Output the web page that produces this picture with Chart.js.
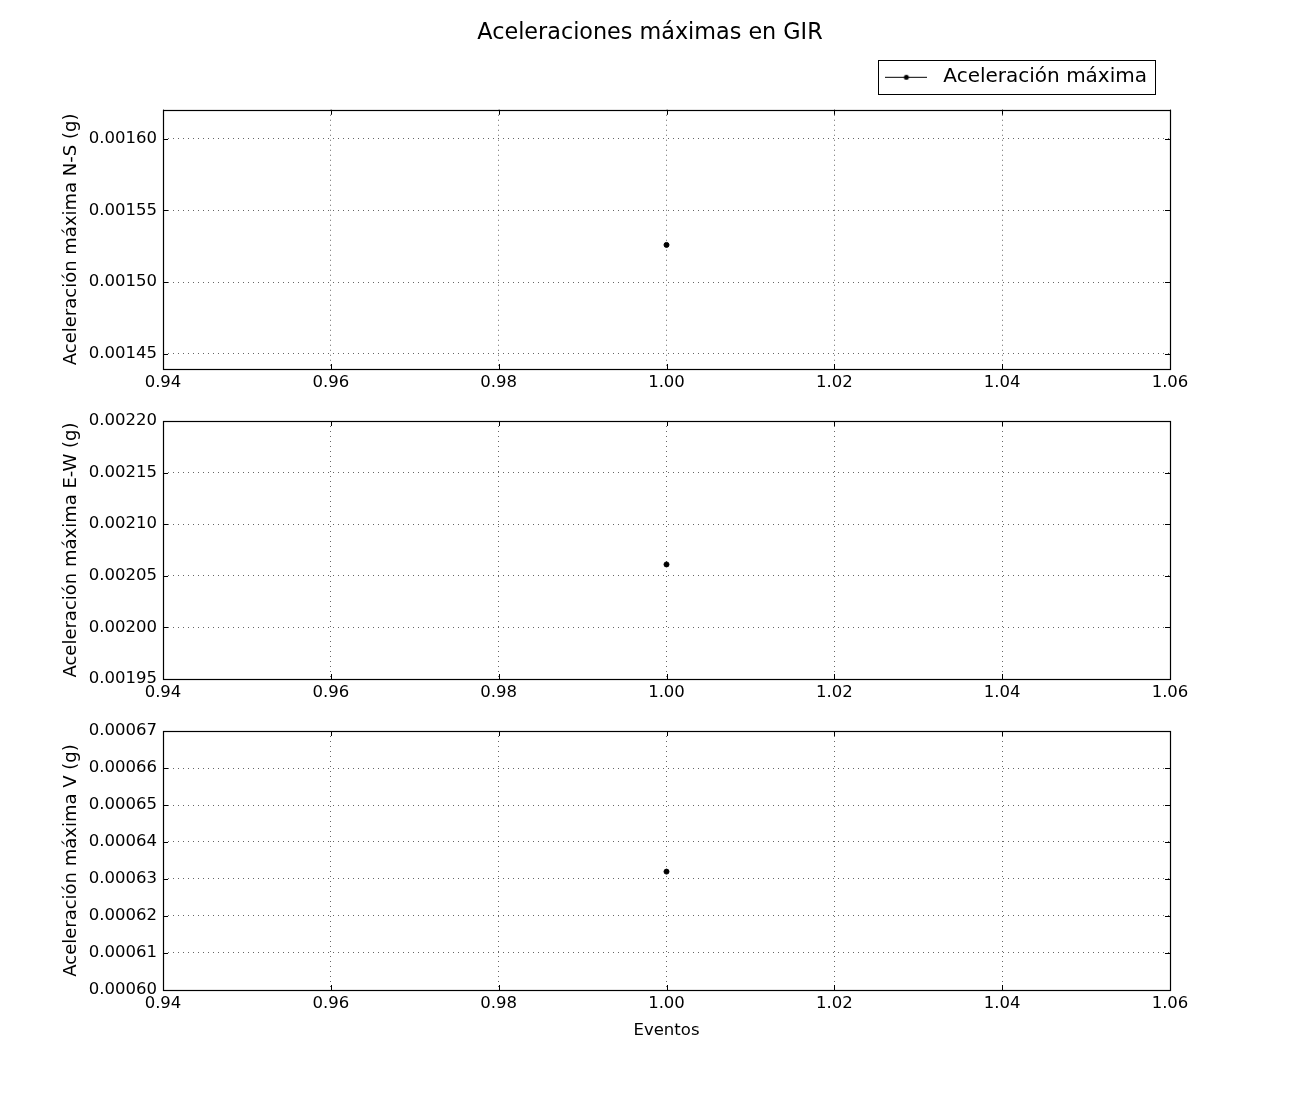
<!DOCTYPE html>
<html>
<head>
<meta charset="utf-8">
<script src="https://cdn.jsdelivr.net/npm/chart.js@4/dist/chart.umd.min.js"></script>
<style>
  body { margin: 0; background: #fff; }
  #wrap { position: relative; width: 1300px; height: 1100px; }
  canvas { position: absolute; left: 0; }
</style>
</head>
<body>
<div id="wrap">
  <canvas id="panelNS" width="1300" height="400" style="top:0"></canvas>
  <canvas id="panelEW" width="1300" height="310" style="top:400px"></canvas>
  <canvas id="panelV" width="1300" height="390" style="top:710px"></canvas>
</div>
<script>
// datos
const eventos = [1];
const acelNS = [0.001526];
const acelEW = [0.002061];
const acelV = [0.000632];

const xTicks = [0.94, 0.96, 0.98, 1.00, 1.02, 1.04, 1.06];
const nsTicks = [0.00145, 0.00150, 0.00155, 0.00160];
const ewTicks = [0.00195, 0.00200, 0.00205, 0.00210, 0.00215, 0.00220];
const vTicks = [0.00060, 0.00061, 0.00062, 0.00063, 0.00064, 0.00065, 0.00066, 0.00067];
const nsRange = [0.0014395, 0.0016202];
const ewRange = [0.00195, 0.00220];
const vRange = [0.00060, 0.00067];

const FONT = "'DejaVu Sans', sans-serif";
const tickFont = { family: FONT, size: 16.5 };
const gridColor = 'rgba(0,0,0,0.6)';

// marca de la leyenda: linea con punto
const legendMark = document.createElement('canvas');
legendMark.width = 42;
legendMark.height = 10;
(function () {
  const c = legendMark.getContext('2d');
  c.strokeStyle = '#000';
  c.lineWidth = 1;
  c.beginPath();
  c.moveTo(0, 5.5);
  c.lineTo(42, 5.5);
  c.stroke();
  c.fillStyle = '#000';
  c.beginPath();
  c.arc(21, 5.5, 2.5, 0, Math.PI * 2);
  c.fill();
})();

// marco y ticks hacia dentro (estilo clasico)
const framePlugin = {
  id: 'frame',
  beforeDatasetsDraw(chart) {
    const ctx = chart.ctx;
    const a = chart.chartArea;
    const xs = chart.scales.x, ys = chart.scales.y;
    ctx.save();
    ctx.strokeStyle = '#000';
    ctx.lineWidth = 1;
    ctx.beginPath();
    xs.ticks.forEach(t => {
      const px = Math.round(xs.getPixelForValue(t.value)) + 0.5;
      ctx.moveTo(px, a.bottom);
      ctx.lineTo(px, a.bottom - 5);
      ctx.moveTo(px, a.top);
      ctx.lineTo(px, a.top + 5);
    });
    ys.ticks.forEach(t => {
      const py = Math.round(ys.getPixelForValue(t.value)) + 0.5;
      ctx.moveTo(a.left, py);
      ctx.lineTo(a.left + 5, py);
      ctx.moveTo(a.right, py);
      ctx.lineTo(a.right - 5, py);
    });
    ctx.stroke();
    ctx.lineWidth = 1.2;
    ctx.strokeRect(Math.round(a.left) + 0.5, Math.round(a.top) + 0.5,
      Math.round(a.right - a.left), Math.round(a.bottom - a.top));
    ctx.restore();
  },
  afterDraw(chart) {
    const lg = chart.legend;
    if (!lg || !lg.options.display || !lg.legendHitBoxes.length) return;
    const hb = lg.legendHitBoxes[0];
    const ctx = chart.ctx;
    const cy = hb.top + hb.height / 2;
    ctx.save();
    ctx.strokeStyle = '#000';
    ctx.lineWidth = 1;
    ctx.strokeRect(Math.round(hb.left - 1) + 0.5, Math.round(cy - 17) + 0.5,
      Math.round(hb.width + 9), 34);
    ctx.restore();
  }
};

// ejes vacios que solo reservan espacio
const spacer = size => ({
  type: 'linear',
  display: true,
  ticks: { display: false },
  grid: { display: false, drawTicks: false },
  border: { display: false },
  title: { display: false },
  afterFit: s => { if (s.isHorizontal()) s.height = size; else s.width = size; }
});

function makePanel(id, values, yTitle, yTicks, yRange, extra) {
  const scales = {
    x: {
      type: 'linear',
      min: xTicks[0],
      max: xTicks[xTicks.length - 1],
      afterBuildTicks: s => { s.ticks = xTicks.map(v => ({ value: v })); },
      afterFit: s => { s.height = extra.xHeight; },
      ticks: {
        callback: v => v.toFixed(2),
        color: '#000',
        font: tickFont,
        padding: 4,
        autoSkip: false,
        maxRotation: 0
      },
      grid: { color: gridColor, lineWidth: 1, drawTicks: false },
      border: { display: false, dash: [1, 4] },
      title: {
        display: !!extra.xTitle,
        text: extra.xTitle || '',
        color: '#000',
        font: tickFont,
        padding: { top: 0, bottom: 1 }
      }
    },
    y: {
      type: 'linear',
      min: yRange[0],
      max: yRange[1],
      afterBuildTicks: s => { s.ticks = yTicks.map(v => ({ value: v })); },
      afterFit: s => { s.width = 105; },
      ticks: {
        callback: v => v.toFixed(5),
        color: '#000',
        font: tickFont,
        padding: 6,
        autoSkip: false
      },
      grid: { color: gridColor, lineWidth: 1, drawTicks: false },
      border: { display: false, dash: [1, 4] },
      title: {
        display: true,
        text: yTitle,
        color: '#000',
        font: { family: FONT, size: 18 },
        padding: { top: 3, bottom: 0 }
      }
    },
    yRight: Object.assign(spacer(72), { position: 'right' })
  };
  if (extra.topGap) scales.xTop = Object.assign(spacer(extra.topGap), { position: 'top' });

  return new Chart(document.getElementById(id), {
    type: 'line',
    data: {
      datasets: [{
        label: 'Aceleración máxima',
        data: eventos.map((x, i) => ({ x: x, y: values[i] })),
        borderColor: '#000',
        backgroundColor: '#000',
        borderWidth: 1,
        pointRadius: 2.5,
        pointHoverRadius: 2.5,
        showLine: true
      }]
    },
    options: {
      responsive: false,
      animation: false,
      devicePixelRatio: 1,
      layout: { padding: { left: 58, right: 58, top: extra.padTop, bottom: extra.padBottom } },
      plugins: {
        tooltip: { enabled: false },
        title: {
          display: !!extra.title,
          text: extra.title || '',
          color: '#000',
          font: { family: FONT, size: 22.3, weight: 'normal' },
          padding: { top: 20, bottom: -3 }
        },
        legend: {
          display: !!extra.legend,
          position: 'top',
          align: 'end',
          fullSize: false,
          labels: {
            color: '#000',
            font: { family: FONT, size: 20 },
            usePointStyle: true,
            pointStyle: legendMark,
            pointStyleWidth: 54,
            padding: 23
          }
        }
      },
      scales: scales
    },
    plugins: [framePlugin]
  });
}

makePanel('panelNS', acelNS, 'Aceleración máxima N-S (g)', nsTicks, nsRange,
  { title: 'Aceleraciones máximas en GIR', legend: true, padTop: 0, padBottom: 0, xHeight: 31, topGap: 13 });
makePanel('panelEW', acelEW, 'Aceleración máxima E-W (g)', ewTicks, ewRange,
  { padTop: 21, padBottom: 0, xHeight: 31 });
makePanel('panelV', acelV, 'Aceleración máxima V (g)', vTicks, vRange,
  { padTop: 21, padBottom: 58, xHeight: 52, xTitle: 'Eventos' });
</script>
</body>
</html>
